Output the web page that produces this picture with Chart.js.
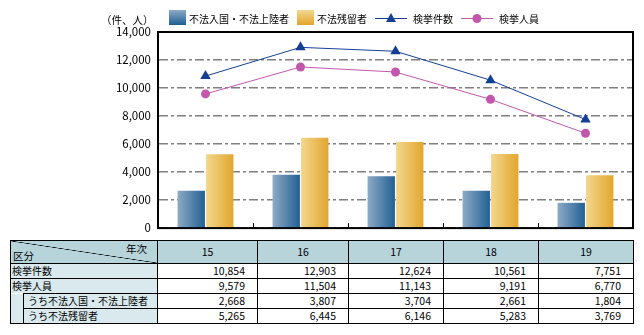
<!DOCTYPE html>
<html>
<head>
<meta charset="utf-8">
<script src="https://cdn.jsdelivr.net/npm/chart.js@4"></script>
<style>
body{margin:0;background:#fff;font-family:"Noto Sans CJK JP",sans-serif;}
#wrap{position:absolute;left:0;top:0;width:644px;height:242px;}
#yTitle{position:absolute;left:101px;top:12px;font-size:10.5px;color:#000;}
#tbl{position:absolute;left:10px;top:240px;border-collapse:collapse;font-size:10px;table-layout:fixed;width:623px;background:#fff;}
#tbl td,#tbl th{border:1px solid #000;padding:0;line-height:14px;height:14px;font-weight:normal;white-space:nowrap;overflow:hidden;}
#tbl th{background:#b7d4db;height:22px;font-size:10.5px;}
#tbl td.lab{background:#d9e9ed;text-align:left;padding-left:1px;}
#tbl td.num{text-align:right;padding-right:12px;font-size:10.5px;}
.corner{position:relative;height:22px;background:linear-gradient(to top right,transparent calc(50% - 0.6px),#000 50%,transparent calc(50% + 0.6px));}
.corner .a{position:absolute;right:10px;top:1px;line-height:13px;}
.corner .b{position:absolute;left:2px;bottom:1px;line-height:13px;}
</style>
</head>
<body>
<div id="wrap"><canvas id="grafico"></canvas></div>
<div id="yTitle">（件、人）</div>
<table id="tbl"></table>
<script>
// datos (平成15〜19年)
var anios = ["15","16","17","18","19"];
var kenkyoKensu = [10854,12903,12624,10561,7751];
var kenkyoJinin = [9579,11504,11143,9191,6770];
var fuhoNyukoku = [2668,3807,3704,2661,1804];
var fuhoZanryu = [5265,6445,6146,5283,3769];
var nombres = ["不法入国・不法上陸者","不法残留者","検挙件数","検挙人員"];
var filas = ["検挙件数","検挙人員","うち不法入国・不法上陸者","うち不法残留者"];
var yMax = 14000, yPaso = 2000;

var catPct = 0.6, barPct = 0.96;
var FUENTE = '"Noto Sans CJK JP", sans-serif';

function degradado(c1, c2){
    return function(ctx){
        var chart = ctx.chart;
        var xs = chart.scales.x;
        if(!xs || ctx.dataIndex === undefined) return c2;
        var paso = xs.width / anios.length;
        var grupo = paso * catPct;
        var centro = xs.getPixelForValue(ctx.dataIndex);
        var izq = centro - grupo/2 + ctx.datasetIndex * grupo/2;
        if(!isFinite(izq) || !isFinite(grupo) || grupo <= 0) return c2;
        var g = chart.ctx.createLinearGradient(izq, 0, izq + grupo/2, 0);
        g.addColorStop(0, c1);
        g.addColorStop(1, c2);
        return g;
    };
}

// leyenda y marco dibujados a mano
var extras = {
    id: "extras",
    afterDatasetsDraw: function(chart){
        var c = chart.ctx, a = chart.chartArea;
        c.save();
        // marcas en el eje x
        c.strokeStyle = "#000"; c.lineWidth = 1;
        var xs = chart.scales.x;
        for(var i=1;i<anios.length;i++){
            var x = Math.round((xs.getPixelForValue(i-1)+xs.getPixelForValue(i))/2)+0.5;
            c.beginPath(); c.moveTo(x, a.bottom); c.lineTo(x, a.bottom-5); c.stroke();
        }
        c.lineWidth = 2;
        c.strokeRect(a.left, a.top, a.right-a.left, a.bottom-a.top);
        c.restore();
    },
    afterDraw: function(chart){
        var c = chart.ctx;
        c.save();
        c.font = "10px " + FUENTE;
        c.textBaseline = "middle";
        c.fillStyle = "#000";
        var x = 169, y = 18;
        chart.data.datasets.forEach(function(ds, k){
            if(ds.type === "bar"){
                var g = c.createLinearGradient(0, y-8, 0, y+7);
                g.addColorStop(0, ds.leyenda[0]); g.addColorStop(1, ds.leyenda[1]);
                c.fillStyle = g;
                c.fillRect(x, y-8, 17, 15);
                x += 20;
            } else {
                c.strokeStyle = ds.borderColor; c.lineWidth = 1;
                c.beginPath(); c.moveTo(x, y+0.5); c.lineTo(x+32, y+0.5); c.stroke();
                c.fillStyle = ds.borderColor;
                c.beginPath();
                if(ds.pointStyle === "triangle"){
                    c.moveTo(x+16, y-5); c.lineTo(x+21, y+4); c.lineTo(x+11, y+4); c.closePath();
                } else {
                    c.arc(x+16, y+0.5, 4.5, 0, Math.PI*2);
                }
                c.fill();
                x += 38;
            }
            c.fillStyle = "#000";
            c.fillText(ds.label, x, y+1);
            x += c.measureText(ds.label).width + 8;
        });
        c.restore();
    }
};

var ctx = document.getElementById("grafico").getContext("2d");
var chart = new Chart(ctx, {
    data: {
        labels: anios,
        datasets: [
            {type:"bar", label:nombres[0], data:fuhoNyukoku, order:2,
             backgroundColor:degradado("#90acc6","#1f5f94"), leyenda:["#8eaac6","#1f5f94"],
             categoryPercentage:catPct, barPercentage:barPct},
            {type:"bar", label:nombres[1], data:fuhoZanryu, order:2,
             backgroundColor:degradado("#f3d890","#e2a52b"), leyenda:["#f3d890","#e2a52b"],
             categoryPercentage:catPct, barPercentage:barPct},
            {type:"line", label:nombres[2], data:kenkyoKensu, order:1,
             borderColor:"#143f97", backgroundColor:"#143f97", borderWidth:1,
             pointStyle:"triangle", pointRadius:6, pointBackgroundColor:"#143f97", pointBorderWidth:0},
            {type:"line", label:nombres[3], data:kenkyoJinin, order:1,
             borderColor:"#c257ab", backgroundColor:"#c257ab", borderWidth:1,
             pointStyle:"circle", pointRadius:4.5, pointBackgroundColor:"#c257ab", pointBorderWidth:0}
        ]
    },
    options: {
        responsive: true,
        maintainAspectRatio: false,
        animation: false,
        layout: { padding: { top: 32, right: 11, bottom: 1, left: 0 } },
        plugins: { legend: { display: false }, tooltip: { enabled: false } },
        scales: {
            x: {
                offset: true,
                afterFit: function(s){ s.height = 0; },
                grid: { display: false },
                border: { display: false },
                ticks: { display: false }
            },
            y: {
                min: 0, max: yMax,
                afterFit: function(s){ s.width = 158; },
                ticks: {
                    stepSize: yPaso, padding: 7, color: "#000",
                    font: { size: 11.5, family: FUENTE },
                    callback: function(v){ return v.toLocaleString("en-US"); }
                },
                grid: { color: "#7f7f7f", lineWidth: 1.5, drawTicks: false, borderDash: [9,3,3,3] },
                border: { display: true, color: "rgba(0,0,0,0)", dash: [9,3,3,3] }
            }
        }
    },
    plugins: [extras]
});

// tabla de datos
var tabla = document.getElementById("tbl");
var anchos = [13, 134, 100, 91, 95, 95, 95];
var h = '<colgroup>';
anchos.forEach(function(w){ h += '<col style="width:'+w+'px">'; });
h += '</colgroup><tr><th colspan="2"><div class="corner"><span class="a">年次</span><span class="b">区分</span></div></th>';
anios.forEach(function(a){ h += '<th>'+a+'</th>'; });
h += '</tr>';
var series = [kenkyoKensu, kenkyoJinin, fuhoNyukoku, fuhoZanryu];
for(var f=0; f<filas.length; f++){
    h += '<tr>';
    if(f < 2){
        var est = f==1 ? ' style="border-bottom:none"' : '';
        h += '<td class="lab" colspan="2"'+est+'>'+filas[f]+'</td>';
    } else {
        if(f == 2) h += '<td class="lab" rowspan="2" style="border-top:none"></td>';
        h += '<td class="lab" style="padding-left:4px">'+filas[f]+'</td>';
    }
    series[f].forEach(function(v){ h += '<td class="num">'+v.toLocaleString("en-US")+'</td>'; });
    h += '</tr>';
}
tabla.innerHTML = h;
</script>
</body>
</html>
